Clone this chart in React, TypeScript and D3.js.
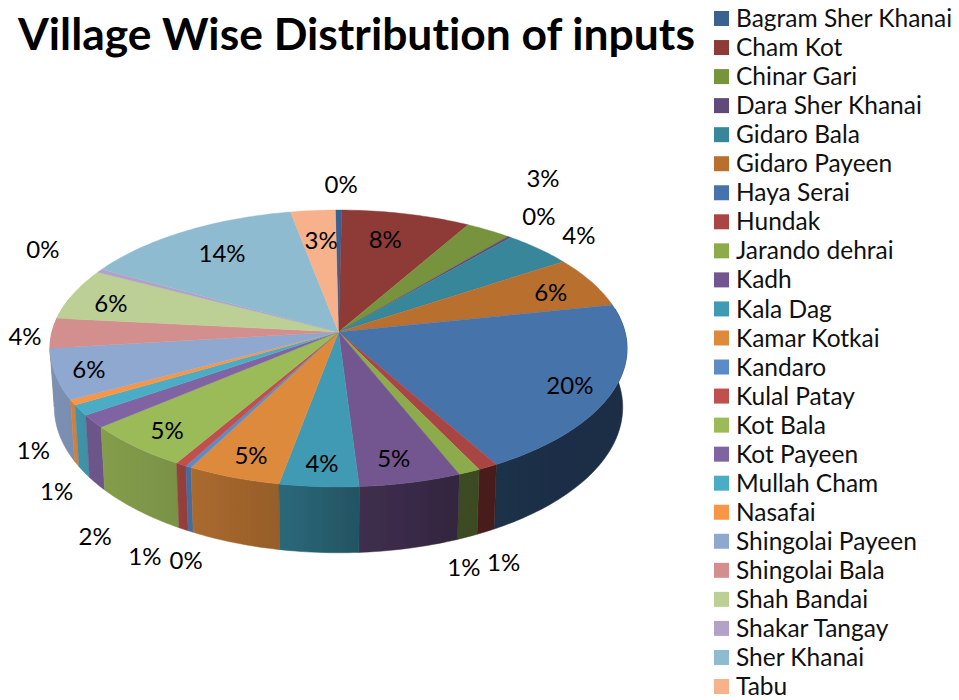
import React from "react";
import * as d3 from "d3";

const villages = [
  "Bagram Sher Khanai", "Cham Kot", "Chinar Gari", "Dara Sher Khanai", "Gidaro Bala", "Gidaro Payeen",
  "Haya Serai", "Hundak", "Jarando dehrai", "Kadh", "Kala Dag", "Kamar Kotkai", "Kandaro", "Kulal Patay",
  "Kot Bala", "Kot Payeen", "Mullah Cham", "Nasafai", "Shingolai Payeen", "Shingolai Bala", "Shah Bandai",
  "Shakar Tangay", "Sher Khanai", "Tabu",
];

// percent shares
const shares = [
  0.4, 8.1, 2.85, 0.22, 4.36, 6.0, 20.0, 1.0, 1.1, 5.1, 3.95, 4.67, 0.3, 0.55, 5.4, 1.5, 1.25, 0.6, 5.9, 3.5,
  6.0, 0.45, 13.9, 2.8,
];

const colors = [
  "#3b6191", "#8e3a38", "#77933c", "#604a7b", "#37869a", "#b9702f", "#4673ab", "#a94543", "#8cab4b", "#73558f",
  "#3f9ab3", "#dd8a3d", "#5b8cc8", "#c0504d", "#9bbb59", "#8064a2", "#4bacc6", "#f79646", "#8fa8d0", "#d38f8d",
  "#bcd096", "#b3a2c7", "#8fbbd0", "#f7b28c",
];

// where each percent label sits: direction in degrees and reach in pie radii
const labelAngles = [
  0.5, 13.6, 32.5, 39.7, 49.8, 68.9, 116.1, 161.2, 165.8, 168.3, 183.4, 198.7, 197.6, 202.3, 219.5, 209.5, 220,
  230.7, 252.3, 268.1, 284.5, 300.2, 324.6, 354.8,
];
const labelReach = [
  1.235, 0.754, 1.533, 1.217, 1.2, 0.822, 0.859, 1.488, 1.479, 0.856, 0.869, 0.86, 1.467, 1.489, 0.866, 1.464,
  1.343, 1.247, 0.885, 1.09, 0.841, 1.286, 0.753, 0.727,
];

const width = 959;
const height = 700;
const font = "Lato, 'Open Sans', sans-serif";

// tilted pie: a circle seen in perspective
const cx = 338.5;
const cy = 332;
const a = 286.5;
const b = 136.5;
const k = 0.119;
const wallDepth = 58;
const wallShrink = 0.985;
const startDeg = -0.7;

const project = (angle: number, r = 1): [number, number] => {
  const u = r * Math.sin(angle);
  const v = -r * Math.cos(angle);
  const w = 1 - k * v;
  return [cx + (a * u) / w, cy + (b * v) / w];
};

const projectBottom = (angle: number): [number, number] => {
  const [x, y] = project(angle);
  const v = -Math.cos(angle);
  return [cx + (x - cx) * wallShrink, y + wallDepth / (1 - k * v)];
};

const rad = (d: number) => (d * Math.PI) / 180;
const deg = (r: number) => (r * 180) / Math.PI;

const line = d3.line();

const wallShade = d3
  .scaleLinear()
  .domain([90, 150, 170, 183, 200, 225, 270])
  .range([0.4, 0.42, 0.47, 0.63, 0.74, 0.84, 0.86])
  .clamp(true);

const shaded = (i: number, angleDeg: number) =>
  d3.interpolateRgb("#000", colors[i])(wallShade(angleDeg) as number);

const arcs = d3
  .pie<number>()
  .sort(null)
  .startAngle(rad(startDeg))
  .endAngle(rad(startDeg + 360))(shares);

const sweep = (start: number, end: number) => {
  const n = Math.max(2, Math.ceil(deg(end - start)));
  return d3.range(n + 1).map((i) => start + ((end - start) * i) / n);
};

const legendY = d3
  .scalePoint()
  .domain(villages)
  .range([18.5, 686.5]);

// the part of every slice that has a visible side, back ones painted first
const walls = arcs
  .map((d, i) => ({ i, from: Math.max(deg(d.startAngle), 80), to: Math.min(deg(d.endAngle), 285) }))
  .filter((w) => w.to > w.from)
  .sort((p, q) => Math.abs((q.from + q.to) / 2 - 180) - Math.abs((p.from + p.to) / 2 - 180));

export default function App() {
  return (
    <svg
      width={width}
      height={height}
      viewBox={`0 0 ${width} ${height}`}
      style={{ position: "absolute", left: 0, top: 0, display: "block", background: "#fff" }}
    >
      <defs>
        <filter id="soft" x="-5%" y="-5%" width="110%" height="110%">
          <feGaussianBlur stdDeviation={0.5} />
        </filter>
        {walls.map((w) => (
          <linearGradient
            key={w.i}
            id={`wall-${w.i}`}
            gradientUnits="userSpaceOnUse"
            x1={project(rad(w.from))[0]}
            x2={project(rad(w.to))[0] + 0.01}
            y1={0}
            y2={0}
          >
            <stop offset="0%" stopColor={shaded(w.i, w.from)} />
            <stop offset="100%" stopColor={shaded(w.i, w.to)} />
          </linearGradient>
        ))}
      </defs>

      <text
        x={18}
        y={50}
        fontFamily={font}
        fontWeight={700}
        fontSize={44.4}
        fill="#000"
        style={{ fontVariantLigatures: "none" }}
      >
        Village Wise Distribution of inputs
      </text>

      <g filter="url(#soft)">
        {walls.map((w) => {
          const angles = sweep(rad(w.from), rad(w.to));
          const path = line([...angles.map((t) => project(t)), ...angles.reverse().map(projectBottom)]) + "Z";
          return (
            <path
              key={w.i}
              d={path}
              fill={`url(#wall-${w.i})`}
              stroke={`url(#wall-${w.i})`}
              strokeWidth={0.5}
            />
          );
        })}
        {arcs.map((d, i) => {
          const rim = sweep(d.startAngle, d.endAngle).map((t) => project(t));
          const path = line([[cx, cy], ...rim]) + "Z";
          return <path key={villages[i]} d={path} fill={colors[i]} stroke={colors[i]} strokeWidth={0.4} />;
        })}
      </g>

      <g fontFamily={font} fontSize={24} fill="#000" textAnchor="middle">
        {shares.map((v, i) => {
          const [x, y] = project(rad(labelAngles[i]), labelReach[i]);
          return (
            <text key={villages[i]} x={x} y={y} dy="0.35em">
              {d3.format(".0f")(v)}%
            </text>
          );
        })}
      </g>

      <g fontFamily={font} fontSize={24.5} fill="#111" style={{ fontVariantLigatures: "none" }}>
        {villages.map((name, i) => {
          const y = legendY(name) as number;
          return (
            <g key={name}>
              <rect x={714} y={y - 7.5} width={15} height={15} fill={colors[i]} />
              <text x={736} y={y} dy="0.35em">
                {name}
              </text>
            </g>
          );
        })}
      </g>
    </svg>
  );
}
